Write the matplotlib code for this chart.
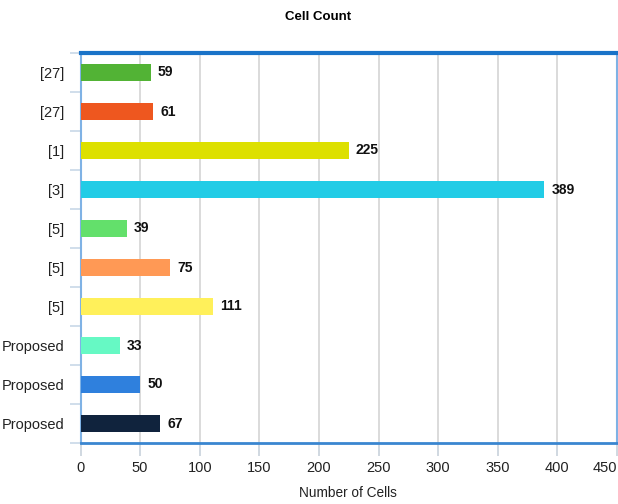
import matplotlib
matplotlib.use('Agg')
import matplotlib.pyplot as plt

# Cell counts per design, top to bottom
labels = ['[27]', '[27]', '[1]', '[3]', '[5]', '[5]', '[5]', 'Proposed', 'Proposed', 'Proposed']
counts = [59, 61, 225, 389, 39, 75, 111, 33, 50, 67]
colors = ['#52b335', '#ee571f', '#dde000', '#22cce6', '#63e06b',
          '#ff9955', '#fff05a', '#66f9c4', '#2f80dd', '#10233d']
xticks = [0, 50, 100, 150, 200, 250, 300, 350, 400, 450]

plt.rcParams['font.family'] = ['Liberation Sans', 'DejaVu Sans']

fig = plt.figure(figsize=(6.18, 5.04), dpi=100)
ax = fig.add_axes([80.5 / 618, 1 - 443 / 504, (617 - 80.5) / 618, (443 - 53) / 504])

pos = list(range(len(labels)))
ax.barh(pos, counts, height=0.46, color=colors, zorder=3)
for p, v in zip(pos, counts):
    ax.text(v + 6, p, str(v), va='center', ha='left', fontsize=10,
            fontweight='bold', color='#111111', zorder=4)

ax.set_ylim(len(labels) - 0.5, -0.5)
ax.set_xlim(0, 450)
ax.set_yticks(pos)
ax.set_yticklabels(labels, fontsize=10.5, color='#222222')
ax.set_xticks(xticks)
ax.set_xticklabels([str(t) for t in xticks], fontsize=10.5, color='#222222')
# keep the last tick label inside the figure
ax.get_xticklabels()[-1].set_horizontalalignment('right')
ax.tick_params(axis='y', length=0, pad=11.5)
ax.tick_params(axis='x', length=9, color='#c8d2dc', width=1.2, pad=4)

# light separators between categories on the left
ax.set_yticks([i + 0.5 for i in range(-1, len(labels))], minor=True)
ax.tick_params(axis='y', which='minor', length=8, color='#c8d8e8', width=1.2)

ax.grid(axis='x', color='#d4d4d4', linewidth=1.2, zorder=0)

ax.spines['top'].set_color('#1a73c8')
ax.spines['top'].set_linewidth(3)
ax.spines['bottom'].set_color('#3a86d0')
ax.spines['bottom'].set_linewidth(2)
ax.spines['left'].set_color('#7fb2e5')
ax.spines['left'].set_linewidth(1.5)
ax.spines['right'].set_color('#7fb2e5')
ax.spines['right'].set_linewidth(1.5)

fig.text(318 / 618, 1 - 17 / 504, 'Cell Count', ha='center', va='center',
         fontsize=9.5, fontweight='bold')
fig.text(348 / 618, 1 - 493 / 504, 'Number of Cells', ha='center', va='center',
         fontsize=9.8, color='#222222')

fig.savefig('out.png', dpi=100)
